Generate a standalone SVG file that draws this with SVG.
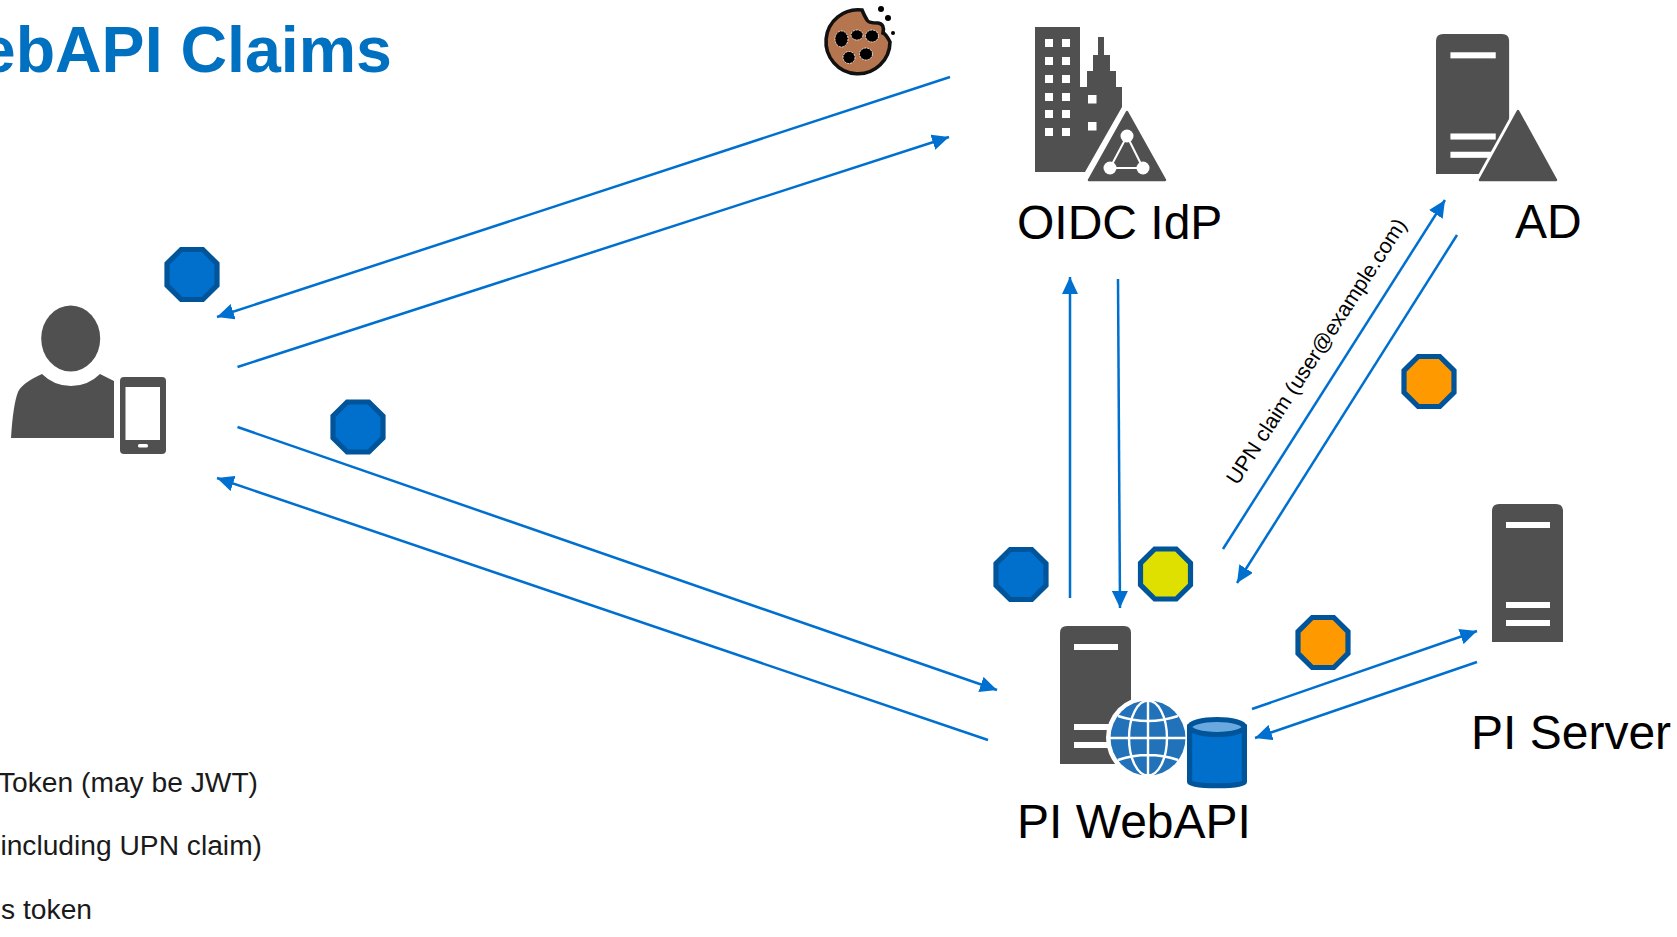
<svg xmlns="http://www.w3.org/2000/svg" xmlns:xlink="http://www.w3.org/1999/xlink" width="1677" height="937" viewBox="0 0 1677 937">
<style>
text{font-family:"Liberation Sans",Arial,sans-serif;fill:#000}
.lbl{font-size:48px}
.leg{font-size:28.2px;text-anchor:end;fill:#1a1a1a}
.title{font-size:64.5px;font-weight:700;fill:#0070c0;text-anchor:end}
.dk{fill:#505050}
.wh{fill:#fff}
.conn line{stroke:#0070d0;stroke-width:2.5;fill:none}
.arr{marker-end:url(#ah)}
.oct{stroke:#00549a;stroke-width:5.2;stroke-linejoin:miter}
.b{fill:#0070cc}.y{fill:#e0e000}.o{fill:#ff9900}
.glb{fill:#2272b9}
.gl{fill:none;stroke:#fff;stroke-width:2.4}
.halo{fill:#fff;stroke:#fff;stroke-width:8;stroke-linejoin:round}
.tri{fill:#505050;stroke:#505050;stroke-width:2.5;stroke-linejoin:round}
</style>
<defs>
<marker id="ah" markerUnits="userSpaceOnUse" markerWidth="18" markerHeight="16" refX="17" refY="8" orient="auto">
<path d="M0 0L17 8L0 16Z" fill="#0070d0"/>
</marker>
<path id="octa" d="M-10.8-25H10.8L25-10.8V10.8L10.8 25H-10.8L-25 10.8V-10.8Z"/>
<g id="srv">
<path class="dk" d="M0 138V7Q0 0 7 0H64Q71 0 71 7V138Z"/>
<rect class="wh" x="14" y="18" width="44" height="6"/>
<rect class="wh" x="14" y="98" width="44" height="6"/>
<rect class="wh" x="14" y="116" width="44" height="6"/>
</g>
</defs>
<rect width="1677" height="937" fill="#fff"/>
<g id="title"><text class="title" x="392" y="71.700">ebAPI Claims</text></g>
<g id="legend">
<text class="leg" x="258" y="792">Token (may be JWT)</text>
<text class="leg" x="262" y="855">including UPN claim)</text>
<text class="leg" x="92" y="919">s token</text>
</g>
<g id="connectors" class="conn">
<line class="arr" x1="950" y1="77" x2="217" y2="317"/>
<line class="arr" x1="237.500" y1="367" x2="949" y2="137"/>
<line class="arr" x1="237.500" y1="427" x2="997" y2="690"/>
<line class="arr" x1="988" y1="740" x2="217" y2="478"/>
<line class="arr" x1="1070" y1="598" x2="1070" y2="277"/>
<line class="arr" x1="1118" y1="279" x2="1120" y2="608"/>
<line class="arr" x1="1223" y1="549" x2="1445" y2="200"/>
<line class="arr" x1="1457" y1="235" x2="1237" y2="583"/>
<line class="arr" x1="1252" y1="709" x2="1477" y2="631"/>
<line class="arr" x1="1477" y1="662" x2="1255" y2="738"/>
</g>
<g id="upn-label"><text transform="translate(1237.500 486) rotate(-57)" font-size="21.400">UPN claim (user@example.com)</text></g>
<g id="user">
<ellipse class="dk" cx="70.700" cy="338.500" rx="29.500" ry="33"/>
<path class="dk" d="M11 438Q13 405 18 392Q22 383 42 374Q54 386 71 386Q88 386 100 374L114 381V438Z"/>
<rect class="dk" x="120" y="377" width="46" height="77" rx="4"/>
<rect class="wh" x="125.500" y="387" width="34.500" height="53"/>
<rect class="wh" x="138" y="444" width="10" height="3.500" rx="1.500"/>
</g>
<g id="cookie">
<path d="M862 10A32 32 0 1 0 890 42Q886 34 883 33Q885 24 878 23Q868 23 867 20Q864 15 862 10Z" fill="#b5764f" stroke="#111" stroke-width="3.600"/>
<g fill="#000" stroke="#fff" stroke-width="0.800" stroke-dasharray="2 1">
<ellipse cx="841.500" cy="39" rx="6.500" ry="8"/>
<ellipse cx="857" cy="35" rx="6" ry="5"/>
<ellipse cx="872" cy="36" rx="6.500" ry="6"/>
<ellipse cx="849" cy="57.500" rx="6" ry="6"/>
<ellipse cx="866" cy="54" rx="6.500" ry="6"/>
</g>
<circle cx="881" cy="9" r="3"/><circle cx="888" cy="18" r="3"/><circle cx="893" cy="33" r="2"/>
</g>
<g id="oidc-idp">
<path class="dk" d="M1035 27H1080V87L1087 87V71H1093V55H1098V37H1104V55H1110V71H1116V87H1122V107L1085 172H1035Z"/>
<g class="wh">
<rect x="1045" y="39" width="8" height="8"/><rect x="1062" y="39" width="8" height="8"/>
<rect x="1045" y="57" width="8" height="8"/><rect x="1062" y="57" width="8" height="8"/>
<rect x="1045" y="75" width="8" height="8"/><rect x="1062" y="75" width="8" height="8"/>
<rect x="1045" y="93" width="8" height="8"/><rect x="1062" y="93" width="8" height="8"/>
<rect x="1045" y="110" width="8" height="8"/><rect x="1062" y="110" width="8" height="8"/>
<rect x="1045" y="128" width="8" height="8"/><rect x="1062" y="128" width="8" height="8"/>
<rect x="1088" y="95" width="8.500" height="8.500"/><rect x="1088" y="122" width="8.500" height="8.500"/>
</g>
<path class="halo" d="M1127 112L1165 180H1089Z"/>
<path class="tri" d="M1127 112L1165 180H1089Z"/>
<path d="M1127 136L1110 168H1143Z" fill="none" stroke="#fff" stroke-width="2"/>
<circle class="wh" cx="1127" cy="136" r="6.500"/><circle class="wh" cx="1110" cy="168" r="6.500"/><circle class="wh" cx="1143" cy="168" r="6.500"/>
<text class="lbl" x="1017" y="239">OIDC IdP</text>
</g>
<g id="ad">
<use xlink:href="#srv" href="#srv" transform="translate(1436 34) scale(1.030 1.015)"/>
<path class="halo" d="M1518 111L1556 180H1480Z"/>
<path class="tri" d="M1518 111L1556 180H1480Z"/>
<text class="lbl" x="1515" y="238" font-size="47">AD</text>
</g>
<g id="pi-webapi">
<use xlink:href="#srv" href="#srv" transform="translate(1060 626)"/>
<circle class="wh" cx="1148" cy="738" r="42"/>
<circle class="glb" cx="1148" cy="738" r="37.500"/>
<g class="gl">
<ellipse cx="1148" cy="738" rx="19" ry="37.500"/>
<path d="M1148 700V776M1110 738H1186M1118 716Q1148 726 1178 716M1118 760Q1148 750 1178 760"/>
</g>
<path d="M1189.600 727V782C1189.600 787 1244.400 787 1244.400 782V727Z" class="b" stroke="#00549a" stroke-width="5.200"/>
<ellipse cx="1217" cy="727" rx="27.400" ry="7.500" fill="#69a9e0" stroke="#00549a" stroke-width="5.200"/>
<text class="lbl" x="1017" y="838">PI WebAPI</text>
</g>
<g id="pi-server">
<use xlink:href="#srv" href="#srv" transform="translate(1492 504)"/>
<text class="lbl" x="1471" y="749">PI Server</text>
</g>
<g id="badge-1"><use xlink:href="#octa" href="#octa" class="oct b" transform="translate(192 274.500)"/></g>
<g id="badge-2"><use xlink:href="#octa" href="#octa" class="oct b" transform="translate(358 427)"/></g>
<g id="badge-3"><use xlink:href="#octa" href="#octa" class="oct b" transform="translate(1021 574.500)"/></g>
<g id="badge-4"><use xlink:href="#octa" href="#octa" class="oct y" transform="translate(1165.500 574)"/></g>
<g id="badge-5"><use xlink:href="#octa" href="#octa" class="oct o" transform="translate(1429 381.500)"/></g>
<g id="badge-6"><use xlink:href="#octa" href="#octa" class="oct o" transform="translate(1323 642.500)"/></g>
</svg>
